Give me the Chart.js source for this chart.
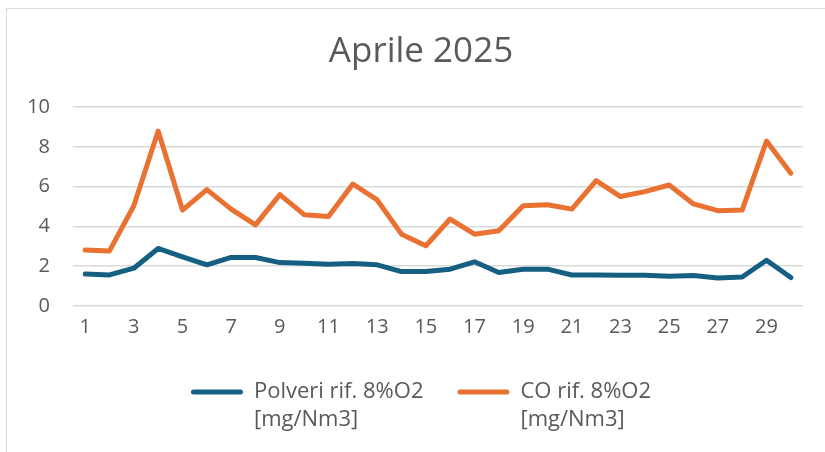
<!DOCTYPE html>
<html>
<head>
<meta charset="utf-8">
<script src="https://cdn.jsdelivr.net/npm/chart.js@4.4.1/dist/chart.umd.min.js"></script>
<style>
  html, body { margin: 0; padding: 0; background: #fff; }
  #frame {
    position: absolute; left: 6px; top: 8px; width: 900px; height: 500px;
    border-left: 1px solid #d9d9d9; border-top: 1px solid #d9d9d9;
  }
  #wrap { position: absolute; left: 0; top: 0; width: 825px; height: 452px; }
</style>
</head>
<body>
<div id="frame"></div>
<div id="wrap"><canvas id="chart" width="825" height="452"></canvas></div>
<script>
// days of April
const days = Array.from({ length: 30 }, (_, i) => String(i + 1));

// Polveri rif. 8%O2 [mg/Nm3]
const polveri = [1.61, 1.56, 1.90, 2.89, 2.47, 2.07, 2.44, 2.44, 2.18, 2.15,
                 2.10, 2.13, 2.07, 1.73, 1.73, 1.85, 2.22, 1.68, 1.85, 1.85,
                 1.56, 1.56, 1.55, 1.55, 1.50, 1.53, 1.41, 1.46, 2.30, 1.43];

// CO rif. 8%O2 [mg/Nm3]
const co = [2.81, 2.77, 5.04, 8.79, 4.82, 5.85, 4.87, 4.08, 5.60, 4.59,
            4.50, 6.13, 5.33, 3.61, 3.03, 4.37, 3.61, 3.78, 5.04, 5.09,
            4.87, 6.30, 5.50, 5.75, 6.08, 5.13, 4.79, 4.82, 8.29, 6.67];

const yTicks = [0, 2, 4, 6, 8, 10];

// legend: first line is the dataset label, second line drawn below it
const legendLine1 = ['Polveri rif. 8%O2', 'CO rif. 8%O2'];
const legendLine2 = ['[mg/Nm3]', '[mg/Nm3]'];

const textColor = '#595959';
const fontFamily = "'Open Sans', 'Noto Sans', sans-serif";
const legendFontSize = 22;
const legendBoxWidth = 52;

// draws the second line of each legend label
const legendSecondLine = {
    id: 'legendSecondLine',
    afterDraw(chart) {
        const legend = chart.legend;
        if (!legend || !legend.legendHitBoxes) return;
        const ctx = chart.ctx;
        ctx.save();
        ctx.fillStyle = textColor;
        ctx.font = `${legendFontSize}px ${fontFamily}`;
        ctx.textAlign = 'left';
        ctx.textBaseline = 'middle';
        legend.legendHitBoxes.forEach((box, i) => {
            const x = box.left + legendBoxWidth + legendFontSize / 2;
            const y = box.top + box.height / 2 + 28;
            ctx.fillText(legendLine2[i], x, y);
        });
        ctx.restore();
    }
};

const config = {
    type: 'line',
    data: {
        labels: days,
        datasets: [
            {
                label: legendLine1[0],
                data: polveri,
                borderColor: '#156082',
                backgroundColor: '#156082',
                borderWidth: 5,
                pointRadius: 0,
                borderCapStyle: 'round',
                borderJoinStyle: 'round',
                tension: 0
            },
            {
                label: legendLine1[1],
                data: co,
                borderColor: '#E97132',
                backgroundColor: '#E97132',
                borderWidth: 5,
                pointRadius: 0,
                borderCapStyle: 'round',
                borderJoinStyle: 'round',
                tension: 0
            }
        ]
    },
    options: {
        responsive: false,
        animation: false,
        layout: { padding: { left: 17, right: 0, top: 0, bottom: 39 } },
        plugins: {
            title: {
                display: true,
                text: 'Aprile 2025',
                color: textColor,
                font: { family: fontFamily, size: 35, weight: 'normal' },
                padding: { top: 31, bottom: 34 }
            },
            legend: {
                position: 'bottom',
                labels: {
                    color: textColor,
                    font: { family: fontFamily, size: legendFontSize },
                    boxWidth: legendBoxWidth,
                    boxHeight: 5,
                    padding: 34,
                    useBorderRadius: true,
                    borderRadius: 2.5,
                    // thin line swatch, no thick border around it
                    generateLabels: (chart) =>
                        Chart.defaults.plugins.legend.labels.generateLabels(chart)
                            .map(item => ({ ...item, lineWidth: 0 }))
                }
            },
            tooltip: { enabled: false }
        },
        scales: {
            x: {
                offset: true,
                grid: { display: false },
                border: { display: false },
                afterFit: (scale) => { scale.height = 41; },
                ticks: {
                    color: textColor,
                    font: { family: fontFamily, size: 20 },
                    autoSkip: false,
                    maxRotation: 0,
                    padding: 1,
                    callback: function (value, index) {
                        return index % 2 === 0 ? days[index] : '';
                    }
                }
            },
            y: {
                min: 0,
                max: 10,
                afterBuildTicks: (scale) => {
                    scale.ticks = yTicks.map(v => ({ value: v }));
                },
                afterFit: (scale) => { scale.width = 56; },
                grid: { color: '#d9d9d9', lineWidth: 1.5, drawTicks: false },
                border: { display: false },
                ticks: {
                    color: textColor,
                    font: { family: fontFamily, size: 20 },
                    padding: 23
                }
            },
            // empty right margin so the plot ends where the original does
            yRight: {
                position: 'right',
                grid: { display: false },
                border: { display: false },
                ticks: { display: false },
                afterFit: (scale) => { scale.width = 22; }
            }
        }
    },
    plugins: [legendSecondLine]
};

new Chart(document.getElementById('chart'), config);
</script>
</body>
</html>
